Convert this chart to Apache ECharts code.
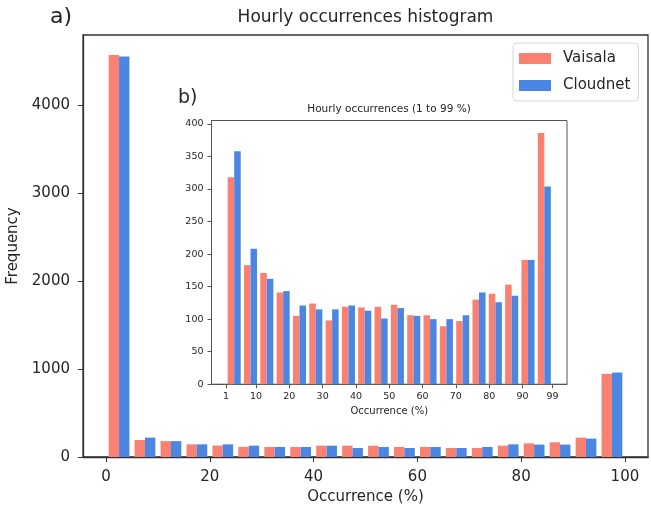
<!DOCTYPE html>
<html>
<head>
<meta charset="utf-8">
<script src="https://cdn.jsdelivr.net/npm/echarts@6/dist/echarts.min.js"></script>
<style>
  html, body { margin: 0; padding: 0; background: #fff; }
  #chart { width: 651px; height: 510px; }
</style>
</head>
<body>
<div id="chart"></div>
<script>
// Main histogram: 5 % wide bins from 0 to 100 %
const mainBinEdges = [0, 5, 10, 15, 20, 25, 30, 35, 40, 45, 50, 55, 60, 65, 70, 75, 80, 85, 90, 95, 100];
const mainVaisala  = [4570, 193, 180, 144, 130, 115, 114, 114, 129, 129, 129, 114, 114, 102, 102, 129, 155, 167, 220, 945];
const mainCloudnet = [4555, 220, 180, 144, 144, 129, 114, 114, 129, 102, 114, 102, 114, 102, 114, 144, 141, 141, 209, 960];

// Inset histogram: 20 bins between 1 and 99 %
const insetBinEdges = [1, 5.9, 10.8, 15.7, 20.6, 25.5, 30.4, 35.3, 40.2, 45.1, 50, 54.9, 59.8, 64.7, 69.6, 74.5, 79.4, 84.3, 89.2, 94.1, 99];
const insetVaisala  = [318, 183, 171, 141, 105, 124, 98, 119, 118, 119, 122, 106, 106, 89, 97, 130, 139, 153, 191, 386];
const insetCloudnet = [358, 208, 162, 143, 121, 115, 115, 121, 113, 101, 117, 105, 100, 100, 106, 141, 126, 136, 191, 304];

// Tick labels
const mainXTicks  = [0, 20, 40, 60, 80, 100];
const mainYTicks  = [0, 1000, 2000, 3000, 4000];
const insetXTicks = [1, 10, 20, 30, 40, 50, 60, 70, 80, 90, 99];
const insetYTicks = [0, 50, 100, 150, 200, 250, 300, 350, 400];

const seriesNames = ['Vaisala', 'Cloudnet'];
const colors = ['#FA8072', '#4C86E3'];
const FONT = 'DejaVu Sans';
const TEXT = '#262626';

// Pair [binStart, binEnd, count] for each bin
function binned(edges, counts) {
  return counts.map((c, i) => [edges[i], edges[i + 1], c]);
}

// Two bars share 80 % of each bin, side by side (grouped histogram)
function histRenderer(slot) {
  return function (params, api) {
    const lo = api.value(0), hi = api.value(1), v = api.value(2);
    const w = hi - lo;
    const x0 = lo + w * (0.1 + 0.4 * slot);
    const x1 = x0 + w * 0.4;
    const pTop = api.coord([x0, v]);
    const pBot = api.coord([x1, 0]);
    return {
      type: 'rect',
      shape: { x: pTop[0], y: pTop[1], width: pBot[0] - pTop[0], height: pBot[1] - pTop[1] },
      style: { fill: api.visual('color') }
    };
  };
}

function histSeries(name, slot, edges, counts, axisIndex) {
  return {
    type: 'custom',
    name: name,
    xAxisIndex: axisIndex,
    yAxisIndex: axisIndex,
    itemStyle: { color: colors[slot] },
    renderItem: histRenderer(slot),
    encode: { x: [0, 1], y: 2 },
    data: binned(edges, counts)
  };
}

const mainYMax = Math.max(...mainVaisala, ...mainCloudnet) * 1.05;
const insetYMax = Math.max(...insetVaisala, ...insetCloudnet) * 1.05;

const axisDark = '#333';
const axisInset = '#555';
const plain = v => String(v);

const option = {
  animation: false,
  backgroundColor: '#fff',
  textStyle: { fontFamily: FONT, color: TEXT },
  title: [
    { text: 'Hourly occurrences histogram', left: 365.5, top: 9, textAlign: 'center', padding: 0,
      textStyle: { fontFamily: FONT, fontSize: 17, fontWeight: 'normal', color: TEXT } },
    { text: 'a)', left: 50, top: 6, padding: 0,
      textStyle: { fontFamily: FONT, fontSize: 22, fontWeight: 'normal', color: TEXT } },
    { text: 'b)', left: 178, top: 89, padding: 0,
      textStyle: { fontFamily: FONT, fontSize: 19, fontWeight: 'normal', color: TEXT } },
    { text: 'Hourly occurrences (1 to 99 %)', left: 389, top: 104, textAlign: 'center', padding: 0,
      textStyle: { fontFamily: FONT, fontSize: 10.5, fontWeight: 'normal', color: TEXT } }
  ],
  legend: {
    data: seriesNames,
    orient: 'vertical',
    left: 513, top: 43,
    icon: 'rect',
    itemWidth: 32, itemHeight: 11, itemGap: 12,
    padding: [8, 8, 8, 6],
    backgroundColor: '#fff',
    borderColor: '#d6d6d6', borderWidth: 1, borderRadius: 4,
    textStyle: { fontFamily: FONT, fontSize: 15, color: TEXT, lineHeight: 11, padding: [0, 0, 0, 7] }
  },
  grid: [
    { left: 83, top: 35, width: 565, height: 422, show: true, containLabel: false, outerBoundsMode: 'none',
      borderColor: axisDark, borderWidth: 1.3, backgroundColor: '#fff' },
    { left: 211.5, top: 120.5, width: 355.5, height: 263.7, show: true, containLabel: false, outerBoundsMode: 'none',
      borderColor: axisInset, borderWidth: 1, backgroundColor: '#fff' }
  ],
  xAxis: [
    { type: 'value', gridIndex: 0, min: -4.45, max: 104.45,
      splitLine: { show: false },
      axisLine: { show: true, onZero: false, lineStyle: { color: axisDark, width: 1.3 } },
      axisTick: { show: true, length: 5, lineStyle: { color: axisDark }, customValues: mainXTicks },
      axisLabel: { fontFamily: FONT, fontSize: 15, color: TEXT, margin: 13, customValues: mainXTicks, formatter: plain },
      name: 'Occurrence (%)', nameLocation: 'middle', nameGap: 33,
      nameTextStyle: { fontFamily: FONT, fontSize: 15, color: TEXT } },
    { type: 'value', gridIndex: 1, min: -3.36, max: 103.36,
      splitLine: { show: false },
      axisLine: { show: true, onZero: false, lineStyle: { color: axisInset, width: 1 } },
      axisTick: { show: true, length: 4, lineStyle: { color: axisInset }, customValues: insetXTicks },
      axisLabel: { fontFamily: FONT, fontSize: 9.5, color: TEXT, margin: 7, customValues: insetXTicks, formatter: plain },
      name: 'Occurrence (%)', nameLocation: 'middle', nameGap: 20,
      nameTextStyle: { fontFamily: FONT, fontSize: 10, color: TEXT } }
  ],
  yAxis: [
    { type: 'value', gridIndex: 0, min: 0, max: mainYMax,
      splitLine: { show: false },
      axisLine: { show: true, onZero: false, lineStyle: { color: axisDark, width: 1.3 } },
      axisTick: { show: true, length: 5, lineStyle: { color: axisDark }, customValues: mainYTicks },
      axisLabel: { fontFamily: FONT, fontSize: 15, color: TEXT, margin: 13, customValues: mainYTicks, formatter: plain },
      name: 'Frequency', nameLocation: 'middle', nameGap: 58,
      nameTextStyle: { fontFamily: FONT, fontSize: 15, color: TEXT } },
    { type: 'value', gridIndex: 1, min: 0, max: insetYMax,
      splitLine: { show: false },
      axisLine: { show: true, onZero: false, lineStyle: { color: axisInset, width: 1 } },
      axisTick: { show: true, length: 4, lineStyle: { color: axisInset }, customValues: insetYTicks },
      axisLabel: { fontFamily: FONT, fontSize: 9.5, color: TEXT, margin: 8, customValues: insetYTicks, formatter: plain } }
  ],
  series: [
    histSeries(seriesNames[0], 0, mainBinEdges, mainVaisala, 0),
    histSeries(seriesNames[1], 1, mainBinEdges, mainCloudnet, 0),
    histSeries(seriesNames[0], 0, insetBinEdges, insetVaisala, 1),
    histSeries(seriesNames[1], 1, insetBinEdges, insetCloudnet, 1)
  ]
};

const chart = echarts.init(document.getElementById('chart'), null, { renderer: 'canvas' });
chart.setOption(option);
</script>
</body>
</html>
